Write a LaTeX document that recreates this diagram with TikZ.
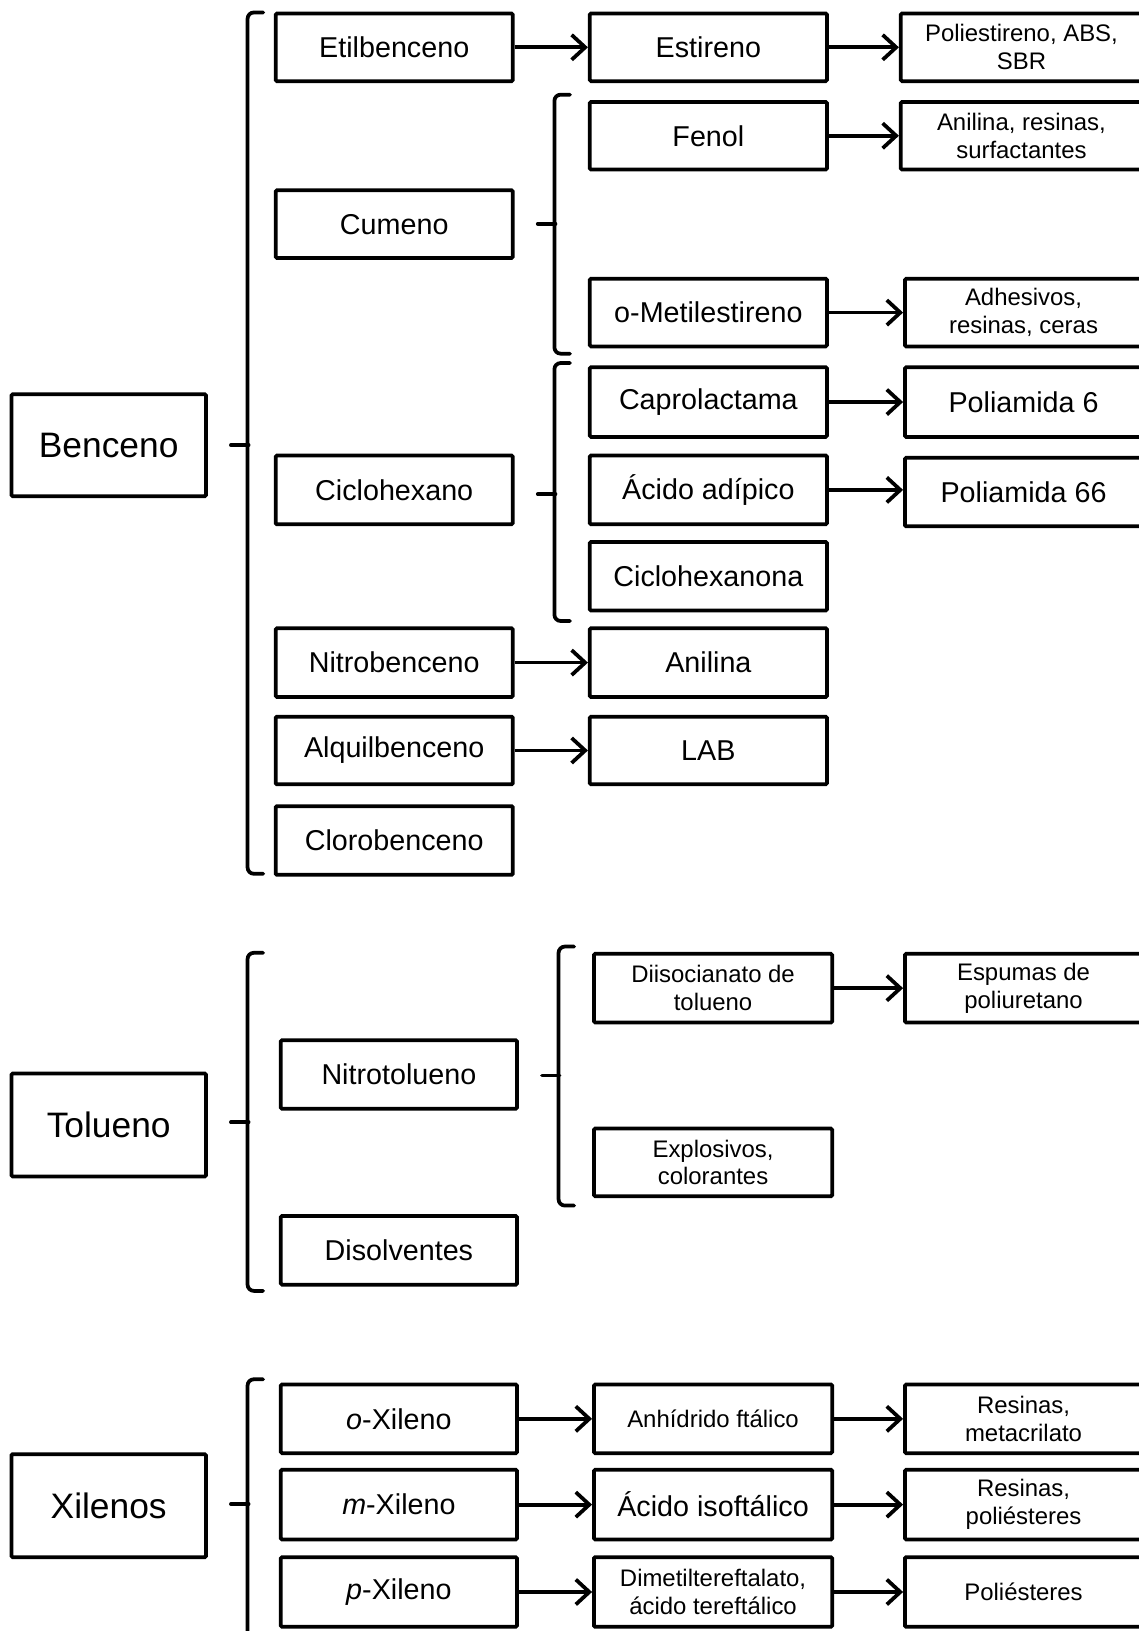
\documentclass[tikz,border=0pt]{standalone}
\usepackage{fontspec}
\setmainfont{Liberation Sans}
\usetikzlibrary{arrows.meta}
\newcommand\bxn[7]{\node[#6, minimum width={(#4-#2)*0.5pt}, minimum height={(#5-#3)*0.5pt}] (#1) at ({(#2+#4)/2},{(#3+#5)/2}) {#7};}
\newcommand\brkt[4]{\draw[brkline] ({#1+15},#2) -- (#1,#2) -- (#1,#3) -- ({#1+15},#3); \draw[brkline] ({#1-16},#4) -- ({#1+1},#4);}
\begin{document}
\begin{tikzpicture}[x=0.5pt,y=-0.5pt,
 box/.style={draw, line width=1.8pt, inner sep=0pt, align=center, rounded corners=0.6pt},
 fbig/.style={box, font=\fontsize{17}{20}\selectfont},
 fmid/.style={box, font=\fontsize{13.8}{16}\selectfont},
 fsml/.style={box, font=\fontsize{11.5}{13.4}\selectfont},
 arr/.style={line width=1.8pt, -{Straight Barb[length=6.5pt,width=12pt]}},
 brkline/.style={line width=1.8pt, rounded corners=3pt, line cap=round}]
\useasboundingbox (0,0) rectangle (1095,1568);
\clip (0,0) rectangle (1095,1568);
\fill[white] (0,0) rectangle (1095,1568);
% level 1
\bxn{ben}{11}{379}{198}{477}{fbig}{Benceno}
\bxn{tol}{11}{1032}{198}{1131}{fbig}{Tolueno}
\bxn{xil}{11}{1398}{198}{1497}{fbig}{Xilenos}
% level 2 benceno
\bxn{etil}{265}{13}{493}{78}{fmid}{Etilbenceno}
\bxn{cum}{265}{183}{493}{248}{fmid}{Cumeno}
\bxn{ciclo}{265}{438}{493}{504}{fmid}{Ciclohexano}
\bxn{nitro}{265}{604}{493}{670}{fmid}{Nitrobenceno}
\bxn{alq}{265}{689}{493}{754}{fmid}{Alquilbenceno}
\bxn{cloro}{265}{775}{493}{841}{fmid}{Clorobenceno}
% level 2 tolueno / xilenos
\bxn{nitrot}{270}{1000}{497}{1066}{fmid}{Nitrotolueno}
\bxn{disol}{270}{1169}{497}{1235}{fmid}{Disolventes}
\bxn{ox}{270}{1331}{497}{1397}{fmid}{\textit{o}-Xileno}
\bxn{mx}{270}{1413}{497}{1480}{fmid}{\textit{m}-Xileno}
\bxn{px}{270}{1497}{497}{1564}{fmid}{\textit{p}-Xileno}
% level 3 benceno
\bxn{estir}{567}{13}{795}{78}{fmid}{Estireno}
\bxn{fenol}{567}{98}{795}{163}{fmid}{Fenol}
\bxn{ometil}{567}{268}{795}{333}{fmid}{o-Metilestireno}
\bxn{capro}{567}{353}{795}{420}{fmid}{Caprolactama}
\bxn{adip}{567}{438}{795}{504}{fmid}{Ácido adípico}
\bxn{cicloh}{567}{521}{795}{587}{fmid}{Ciclohexanona}
\bxn{anil}{567}{604}{795}{670}{fmid}{Anilina}
\bxn{lab}{567}{689}{795}{754}{fmid}{LAB}
% level 3 tolueno / xilenos
\bxn{diiso}{571}{917}{800}{983}{fsml}{Diisocianato de\\tolueno}
\bxn{explo}{571}{1085}{800}{1150}{fsml}{Explosivos,\\colorantes}
\bxn{anh}{571}{1331}{800}{1397}{fsml}{Anhídrido ftálico}
\bxn{isof}{571}{1413}{800}{1480}{fmid}{Ácido isoftálico}
\bxn{dimet}{571}{1497}{800}{1564}{fsml}{Dimetiltereftalato,\\ácido tereftálico}
% level 4
\bxn{polies}{866}{13}{1098}{78}{fsml}{Poliestireno, ABS,\\SBR}
\bxn{anres}{866}{98}{1098}{163}{fsml}{Anilina, resinas,\\surfactantes}
\bxn{adhes}{870}{268}{1098}{333}{fsml}{Adhesivos,\\resinas, ceras}
\bxn{pa6}{870}{353}{1098}{420}{fmid}{Poliamida 6}
\bxn{pa66}{870}{440}{1098}{506}{fmid}{Poliamida 66}
\bxn{espum}{870}{917}{1098}{983}{fsml}{Espumas de\\poliuretano}
\bxn{resmet}{870}{1331}{1098}{1397}{fsml}{Resinas,\\metacrilato}
\bxn{respol}{870}{1413}{1098}{1480}{fsml}{Resinas,\\poliésteres}
\bxn{poli}{870}{1497}{1098}{1564}{fsml}{Poliésteres}
% arrows
\foreach \a/\b in {etil/estir, estir/polies, fenol/anres, ometil/adhes, capro/pa6, adip/pa66,
  nitro/anil, alq/lab, diiso/espum, ox/anh, anh/resmet, mx/isof, isof/respol, px/dimet, dimet/poli}
  \draw[arr] (\a.east) -- (\a.east -| \b.west);
% brackets
\brkt{238}{12}{840}{428}
\brkt{533}{91}{340}{215}
\brkt{533}{349}{597}{475}
\brkt{238}{916}{1241}{1079}
\brkt{537}{910}{1159}{1034}
\brkt{238}{1326}{1620}{1446}
\end{tikzpicture}
\end{document}
